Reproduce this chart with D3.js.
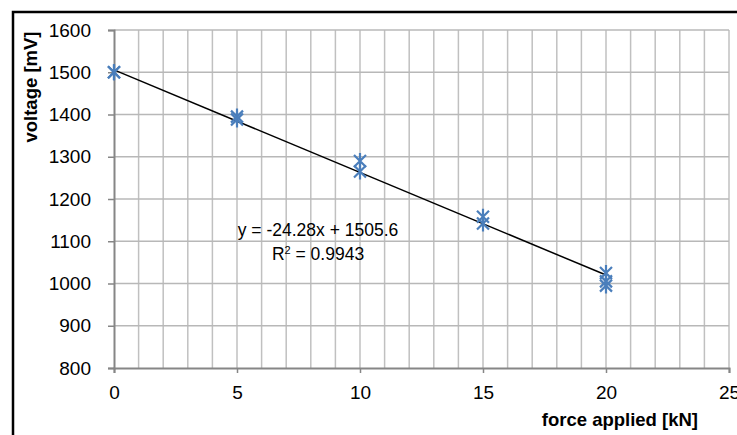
<!DOCTYPE html>
<html>
<head>
<meta charset="utf-8">
<script src="https://cdn.jsdelivr.net/npm/d3@7"></script>
<style>
  body { margin: 0; background: #fff; }
  svg text { font-family: "Liberation Sans", sans-serif; }
</style>
</head>
<body>
<div id="chart"></div>
<script>
// measured data: force [kN] and voltage [mV]
var forceValues = [0, 0, 5, 5, 10, 10, 15, 15, 20, 20, 20];
var voltageValues = [1500, 1500, 1395, 1388, 1290, 1265, 1158, 1142, 1025, 1005, 995];

// linear trendline shown on chart
var trendSlope = -24.28;
var trendIntercept = 1505.6;
var trendRange = [0, 20];
var equationLabel = "y = -24.28x + 1505.6";
var rSquaredLabel = "0.9943";

// axis ticks
var xTicks = [0, 5, 10, 15, 20, 25];
var yTicks = [800, 900, 1000, 1100, 1200, 1300, 1400, 1500, 1600];

var W = 737, H = 435;
var margin = { top: 30, right: 8, bottom: 67, left: 114 },
  width = 729 - margin.left, // plot width
  height = 368 - margin.top; // plot height

var x = d3.scaleLinear().domain([0, 25]).range([0, width]);
var y = d3.scaleLinear().domain([800, 1600]).range([height, 0]);

var svg = d3.select("#chart").append("svg")
  .attr("width", W)
  .attr("height", H);

// outer frame (cut off at right and bottom)
svg.append("rect")
  .attr("x", 13).attr("y", 12)
  .attr("width", W + 20).attr("height", H + 20)
  .style("fill", "none")
  .style("stroke", "#000")
  .style("stroke-width", 2.5);

var g = svg.append("g")
  .attr("transform", "translate(" + margin.left + "," + margin.top + ")");

// vertical grid every 1 kN
g.selectAll(".vgrid")
  .data(d3.range(1, 26))
  .enter().append("line")
  .attr("x1", d => x(d)).attr("x2", d => x(d))
  .attr("y1", 0).attr("y2", height)
  .style("stroke", "#c0c0c0")
  .style("stroke-width", 1.5);

// horizontal grid
g.selectAll(".hgrid")
  .data(yTicks.slice(1))
  .enter().append("line")
  .attr("x1", 0).attr("x2", width)
  .attr("y1", d => y(d)).attr("y2", d => y(d))
  .style("stroke", "#b8b8b8")
  .style("stroke-width", 1.5);

// x axis
var xAxis = g.append("g")
  .attr("transform", "translate(0," + height + ")")
  .call(d3.axisBottom(x).tickValues(xTicks).tickFormat(d3.format("d")).tickSize(5).tickPadding(13));
// y axis
var yAxis = g.append("g")
  .call(d3.axisLeft(y).tickValues(yTicks).tickFormat(d3.format("d")).tickSize(6).tickPadding(17));

[xAxis, yAxis].forEach(function(a) {
  a.select(".domain").style("stroke", "#868686").style("stroke-width", 2);
  a.selectAll(".tick line").style("stroke", "#868686").style("stroke-width", 1.5);
  a.selectAll(".tick text")
    .style("font-size", "19px")
    .style("fill", "#000")
    .style("font-family", "'Liberation Sans', sans-serif");
});
xAxis.selectAll(".tick text").attr("dy", "0.71em");

// trendline
g.append("line")
  .attr("x1", x(trendRange[0]))
  .attr("y1", y(trendSlope * trendRange[0] + trendIntercept))
  .attr("x2", x(trendRange[1]))
  .attr("y2", y(trendSlope * trendRange[1] + trendIntercept))
  .style("stroke", "#000")
  .style("stroke-width", 1.5);

// asterisk markers
var r = 8;
g.selectAll(".pt")
  .data(forceValues.map((f, i) => ({ f: f, v: voltageValues[i] })))
  .enter().append("path")
  .attr("class", "pt")
  .attr("transform", d => "translate(" + x(d.f) + "," + y(d.v) + ")")
  .attr("d", "M" + (-r * 0.75) + "," + (-r * 0.75) + "L" + (r * 0.75) + "," + (r * 0.75) +
    "M" + (r * 0.75) + "," + (-r * 0.75) + "L" + (-r * 0.75) + "," + (r * 0.75) +
    "M0," + (-r) + "L0," + r)
  .style("fill", "none")
  .style("stroke", "#4a7ebb")
  .style("stroke-width", 2.2);

// equation labels
g.append("text")
  .attr("x", 318 - margin.left).attr("y", 236 - margin.top)
  .attr("text-anchor", "middle")
  .style("font-size", "17.5px")
  .text(equationLabel);
var r2 = g.append("text")
  .attr("x", 318 - margin.left).attr("y", 260 - margin.top)
  .attr("text-anchor", "middle")
  .style("font-size", "17.5px");
r2.append("tspan").text("R");
r2.append("tspan").attr("dy", -6).style("font-size", "11px").text("2");
r2.append("tspan").attr("dy", 6).text(" = " + rSquaredLabel);

// axis titles
svg.append("text")
  .attr("transform", "translate(37,87) rotate(-90)")
  .attr("text-anchor", "middle")
  .style("font-size", "18.5px")
  .style("font-weight", "bold")
  .text("voltage [mV]");
svg.append("text")
  .attr("x", 698).attr("y", 426)
  .attr("text-anchor", "end")
  .style("font-size", "18.5px")
  .style("font-weight", "bold")
  .text("force applied [kN]");
</script>
</body>
</html>
